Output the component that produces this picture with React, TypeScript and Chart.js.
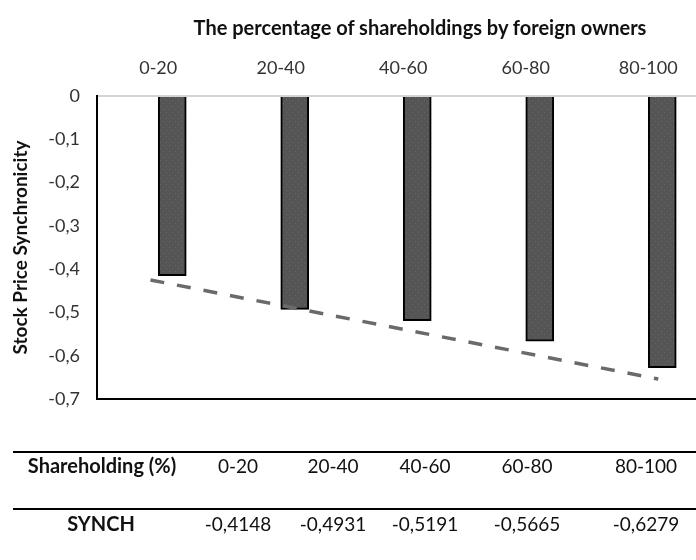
import React, { useEffect, useRef } from "react";
import { Chart, registerables } from "chart.js";

Chart.register(...registerables);

const categories = ["0-20", "20-40", "40-60", "60-80", "80-100"];
const synchValues = [-0.4148, -0.4931, -0.5191, -0.5665, -0.6279];
const trendX = [-0.27, 4.29];
const trendY = [-0.425, -0.654];
const yTicks = [0, -0.1, -0.2, -0.3, -0.4, -0.5, -0.6, -0.7];
const tableColumnCenters = [238, 333, 425, 527, 646];

const FONT = "Lato, 'Liberation Sans', sans-serif";

function fmt(v: number, digits: number): string {
  if (Math.abs(v) < 1e-9) return "0";
  return v.toFixed(digits).replace(".", ",");
}

function makePattern(): CanvasPattern | string {
  const c = document.createElement("canvas");
  c.width = 6;
  c.height = 6;
  const g = c.getContext("2d");
  if (!g) return "#575757";
  g.fillStyle = "#555555";
  g.fillRect(0, 0, 6, 6);
  g.fillStyle = "#666666";
  g.fillRect(1, 1, 1, 1);
  g.fillRect(4, 4, 1, 1);
  const p = g.createPattern(c, "repeat");
  return p || "#575757";
}

export default function App() {
  const canvasRef = useRef<HTMLCanvasElement | null>(null);

  useEffect(() => {
    if (!canvasRef.current) return;
    const chart = new Chart(canvasRef.current, {
      type: "bar",
      data: {
        labels: categories,
        datasets: [
          {
            type: "line",
            label: "trend",
            xAxisID: "xt",
            yAxisID: "y",
            data: trendX.map((x, i) => ({ x, y: trendY[i] })),
            borderColor: "#6a6a6a",
            borderWidth: 3.5,
            borderDash: [14, 13],
            borderCapStyle: "butt",
            pointRadius: 0,
            fill: false,
            order: 0,
          } as any,
          {
            type: "bar",
            label: "SYNCH",
            xAxisID: "x",
            yAxisID: "y",
            data: synchValues,
            backgroundColor: makePattern() as any,
            borderColor: "#000000",
            borderWidth: 2,
            barThickness: 28,
            order: 1,
          } as any,
        ],
      },
      options: {
        animation: false,
        responsive: false,
        maintainAspectRatio: false,
        layout: { padding: { left: 0, top: 0, right: 10.5, bottom: 161 } },
        plugins: {
          legend: { display: false },
          tooltip: { enabled: false },
          title: { display: false },
        },
        scales: {
          x: {
            type: "category",
            position: "top",
            offset: true,
            grid: { display: false, drawTicks: false },
            border: { display: true, color: "#d4d4d4", width: 2 },
            ticks: {
              padding: 17,
              color: "#333333",
              font: { family: FONT, size: 18 },
            },
            afterFit: (s: any) => {
              s.height = 96;
            },
          },
          xt: {
            type: "linear",
            display: false,
            min: -0.5,
            max: 4.5,
          },
          y: {
            type: "linear",
            min: -0.7,
            max: 0,
            afterBuildTicks: (s: any) => {
              s.ticks = yTicks.slice().reverse().map((v) => ({ value: v }));
            },
            grid: {
              drawTicks: false,
              color: (ctx: any) =>
                ctx.tick && Math.abs(ctx.tick.value + 0.7) < 1e-6 ? "#000000" : "rgba(0,0,0,0)",
              lineWidth: 2,
            },
            border: { display: true, color: "#000000", width: 2 },
            ticks: {
              padding: 17,
              color: "#333333",
              font: { family: FONT, size: 18 },
              callback: (v: any) => fmt(Number(v), 1),
            },
            title: {
              display: true,
              text: "Stock Price Synchronicity",
              color: "#111111",
              font: { family: FONT, size: 19, weight: "bold" },
              padding: { top: 9, bottom: 0 },
            },
            afterFit: (s: any) => {
              s.width = 97;
            },
          },
        },
      },
    });
    return () => chart.destroy();
  }, []);

  const rowText: React.CSSProperties = {
    position: "absolute",
    transform: "translate(-50%, -50%)",
    whiteSpace: "nowrap",
    fontFamily: FONT,
    fontSize: 19,
    color: "#111",
  };

  return (
    <div
      style={{
        position: "absolute",
        left: 0,
        top: 0,
        width: 696,
        height: 560,
        overflow: "hidden",
        background: "#ffffff",
      }}
    >
      <canvas
        ref={canvasRef}
        width={720}
        height={560}
        style={{ position: "absolute", left: 0, top: 0, width: 720, height: 560 }}
      />
      <div
        style={{
          ...rowText,
          left: 420,
          top: 27,
          fontSize: 20,
          fontWeight: "bold",
          color: "#111",
        }}
      >
        The percentage of shareholdings by foreign owners
      </div>
      <div style={{ position: "absolute", left: 13, top: 451, width: 683, height: 2, background: "#000" }} />
      <div style={{ position: "absolute", left: 13, top: 508, width: 683, height: 2, background: "#000" }} />
      <div style={{ ...rowText, left: 102, top: 465, fontWeight: "bold", fontSize: 20 }}>Shareholding (%)</div>
      <div style={{ ...rowText, left: 101, top: 523, fontWeight: "bold", fontSize: 20 }}>SYNCH</div>
      {categories.map((c, i) => (
        <div key={"c" + i} style={{ ...rowText, left: tableColumnCenters[i], top: 465 }}>
          {c}
        </div>
      ))}
      {synchValues.map((v, i) => (
        <div key={"v" + i} style={{ ...rowText, left: tableColumnCenters[i], top: 523 }}>
          {fmt(v, 4)}
        </div>
      ))}
    </div>
  );
}
